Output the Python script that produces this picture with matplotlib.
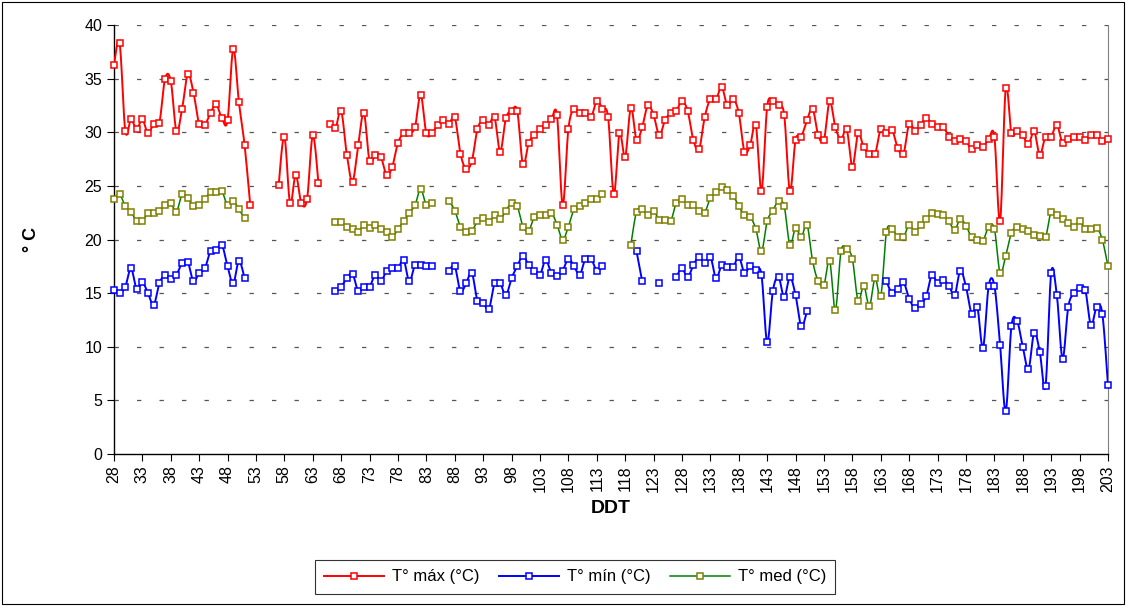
import numpy as np
import matplotlib
matplotlib.use("Agg")
import matplotlib.pyplot as plt
from matplotlib.lines import Line2D
from matplotlib.patches import Rectangle

N = np.nan
days = list(range(28, 204))

t_max = [
    36.3, 38.3, 30.1, 31.2, 30.3, 31.2, 29.9, 30.8, 30.9, 35.0,
    34.8, 30.1, 32.2, 35.4, 33.7, 30.8, 30.7, 31.8, 32.6, 31.3,
    31.1, 37.8, 32.8, 28.8, 23.2, N, N, N, N, 25.1,
    29.6, 23.4, 26.0, 23.4, 23.8, 29.7, 25.3, N, 30.8, 30.4,
    32.0, 27.9, 25.4, 28.8, 31.8, 27.3, 27.9, 27.7, 26.0, 26.8,
    29.0, 29.9, 29.9, 30.5, 33.5, 29.9, 29.9, 30.7, 31.1, 30.8,
    31.4, 28.0, 26.6, 27.3, 30.3, 31.1, 30.7, 31.4, 28.2, 31.3,
    32.0, 32.0, 27.0, 29.0, 29.7, 30.3, 30.7, 31.2, 31.6, 23.2,
    30.3, 32.2, 31.8, 31.8, 31.4, 32.9, 32.2, 31.4, 24.2, 29.9,
    27.7, 32.3, 29.3, 30.5, 32.5, 31.6, 29.7, 31.1, 31.8, 32.0,
    32.9, 32.0, 29.3, 28.4, 31.4, 33.1, 33.1, 34.2, 32.5, 33.1,
    31.8, 28.2, 28.8, 30.7, 24.5, 32.4, 32.9, 32.5, 31.6, 24.5,
    29.3, 29.6, 31.1, 32.2, 29.7, 29.3, 32.9, 30.5, 29.3, 30.3,
    26.8, 29.9, 28.6, 28.0, 28.0, 30.3, 29.9, 30.2, 28.5, 28.0,
    30.8, 30.1, 30.7, 31.3, 30.8, 30.5, 30.5, 29.6, 29.2, 29.4,
    29.2, 28.4, 28.8, 28.6, 29.4, 29.6, 21.7, 34.1, 29.9, 30.1,
    29.7, 28.9, 30.1, 27.9, 29.6, 29.6, 30.7, 29.0, 29.4, 29.6,
    29.6, 29.3, 29.7, 29.7, 29.2, 29.4,
]

t_min = [
    15.3, 15.0, 15.6, 17.3, 15.4, 16.0, 15.0, 13.9, 15.9, 16.7,
    16.3, 16.7, 17.8, 17.9, 16.1, 16.9, 17.3, 18.9, 19.0, 19.5,
    17.5, 15.9, 18.0, 16.4, N, N, N, N, N, N,
    N, N, N, N, N, N, N, N, N, 15.2,
    15.6, 16.4, 16.8, 15.2, 15.6, 15.6, 16.7, 16.1, 17.1, 17.3,
    17.3, 18.1, 16.1, 17.6, 17.6, 17.5, 17.5, N, N, 17.1,
    17.5, 15.2, 15.9, 16.9, 14.3, 14.1, 13.5, 15.9, 15.9, 14.8,
    16.4, 17.5, 18.5, 17.6, 17.1, 16.7, 18.1, 16.9, 16.6, 17.1,
    18.2, 17.5, 16.7, 18.2, 18.2, 17.1, 17.5, N, N, N,
    N, N, 18.9, 16.1, N, N, 15.9, N, N, 16.5,
    17.3, 16.5, 17.6, 18.4, 17.8, 18.4, 16.4, 17.6, 17.4, 17.4,
    18.4, 16.9, 17.5, 17.2, 16.7, 10.4, 15.2, 16.5, 14.6, 16.5,
    14.8, 11.9, 13.3, N, N, N, N, N, N, N,
    N, N, N, N, N, N, 16.1, 15.0, 15.4, 16.0,
    14.5, 13.6, 14.0, 14.7, 16.7, 15.9, 16.2, 15.7, 14.8, 17.1,
    15.6, 13.1, 13.7, 9.9, 15.7, 15.7, 10.2, 4.0, 11.9, 12.4,
    10.0, 7.9, 11.3, 9.5, 6.3, 16.9, 14.8, 8.9, 13.7, 15.0,
    15.5, 15.3, 12.0, 13.7, 13.1, 6.4,
]

t_med = [
    23.8, 24.2, 23.1, 22.6, 21.7, 21.7, 22.5, 22.5, 22.7, 23.2,
    23.4, 22.6, 24.2, 23.9, 23.1, 23.2, 23.8, 24.4, 24.4, 24.5,
    23.2, 23.6, 22.8, 22.0, N, N, N, N, N, N,
    N, N, N, N, N, N, N, N, N, 21.6,
    21.6, 21.2, 21.0, 20.7, 21.4, 21.1, 21.4, 21.0, 20.7, 20.2,
    21.0, 21.7, 22.5, 23.2, 24.7, 23.2, 23.4, N, N, 23.6,
    22.7, 21.2, 20.7, 20.8, 21.7, 22.0, 21.6, 22.3, 21.9, 22.7,
    23.4, 23.1, 21.2, 20.8, 22.1, 22.3, 22.3, 22.5, 21.4, 20.0,
    21.2, 22.8, 23.1, 23.4, 23.8, 23.8, 24.2, N, N, N,
    N, 19.5, 22.6, 22.8, 22.3, 22.7, 21.8, 21.8, 21.7, 23.4,
    23.8, 23.2, 23.2, 22.7, 22.5, 23.9, 24.4, 24.9, 24.6, 24.1,
    23.1, 22.3, 22.1, 21.0, 18.9, 21.7, 22.7, 23.6, 23.1, 19.5,
    21.1, 20.2, 21.4, 18.0, 16.1, 15.8, 18.0, 13.4, 18.9, 19.1,
    18.2, 14.3, 15.7, 13.8, 16.4, 14.7, 20.7, 21.0, 20.2, 20.2,
    21.4, 20.7, 21.4, 21.9, 22.5, 22.4, 22.3, 21.7, 20.9, 21.9,
    21.3, 20.2, 20.0, 19.9, 21.2, 21.0, 16.9, 18.5, 20.6, 21.2,
    21.0, 20.8, 20.4, 20.3, 20.2, 22.6, 22.3, 21.9, 21.5, 21.2,
    21.7, 21.0, 21.0, 21.1, 20.0, 17.5,
]

x_ticks = list(range(28, 204, 5))
y_ticks = [0, 5, 10, 15, 20, 25, 30, 35, 40]
labels = ["T° máx (°C)", "T° mín (°C)", "T° med (°C)"]

plt.rcParams['font.family'] = ['Liberation Sans', 'DejaVu Sans']


def smooth_run(xs, ys, n=14):
    P = np.column_stack([xs, ys]).astype(float)
    Pe = np.vstack([P[0], P, P[-1]])
    t = np.linspace(0, 1, n, endpoint=False)[:, None]
    out = []
    for i in range(1, len(Pe) - 2):
        p0, p1, p2, p3 = Pe[i - 1], Pe[i], Pe[i + 1], Pe[i + 2]
        c1 = p1 + (p2 - p0) / 6.0
        c2 = p2 - (p3 - p1) / 6.0
        B = ((1 - t) ** 3) * p1 + 3 * ((1 - t) ** 2) * t * c1 + 3 * (1 - t) * t ** 2 * c2 + t ** 3 * p2
        out.append(B)
    out.append(P[-1:])
    return np.vstack(out)


def draw_series(ax, x, y, lc, mc, lw):
    x = np.asarray(x, float)
    y = np.asarray(y, float)
    ok = np.isfinite(y)
    i = 0
    n = len(y)
    while i < n:
        if not ok[i]:
            i += 1
            continue
        j = i
        while j < n and ok[j]:
            j += 1
        if j - i >= 2:
            S = smooth_run(x[i:j], y[i:j])
            ax.plot(S[:, 0], S[:, 1], color=lc, lw=lw, zorder=3, solid_joinstyle='round')
        i = j
    ax.plot(x[ok], y[ok], linestyle='none', marker='s', ms=4.6, mew=1.1,
            mfc='white', mec=mc, zorder=4, clip_on=False)


fig = plt.figure(figsize=(11.26, 6.06), dpi=100)
ax = fig.add_axes([0.1012, 0.2508, 0.9840 - 0.1012, 0.9587 - 0.2508])

series = [
    (t_max, '#FF0000', '#FF0000', 1.4),
    (t_min, '#0000FF', '#0000FF', 1.4),
    (t_med, '#008000', '#808000', 1.1),
]
for vals, lc, mc, lw in series:
    draw_series(ax, days, vals, lc, mc, lw)

ax.set_xlim(28, 203)
ax.set_ylim(0, 40)
ax.set_yticks(y_ticks)
ax.set_xticks(x_ticks)
ax.set_xticklabels([str(v) for v in x_ticks], rotation=90)
ax.tick_params(axis='both', labelsize=11.5, direction='out', length=5, width=0.8, colors='black')
ax.tick_params(axis='x', pad=3)
for yv in y_ticks[1:]:
    ax.axhline(yv, color='#555555', lw=0.9, linestyle=(0, (3.5, 14.5)), zorder=1)

ax.spines['top'].set_visible(False)
ax.spines['right'].set_color('#808080')
ax.spines['left'].set_linewidth(1.0)
ax.spines['bottom'].set_linewidth(1.0)

ax.set_ylabel('° C', fontsize=13, fontweight='bold', labelpad=32)
ax.set_xlabel('DDT', fontsize=14, fontweight='bold', labelpad=6)

handles = [Line2D([], [], color=lc, lw=lw, marker='s', ms=4.6, mew=1.1, mfc='white', mec=mc)
           for _, lc, mc, lw in series]
leg = fig.legend(handles, labels, loc='center', bbox_to_anchor=(0.5107, 0.0479), ncol=3,
                 fontsize=12, frameon=True, fancybox=False, edgecolor='black',
                 handlelength=3.6, columnspacing=1.2, handletextpad=0.45, borderpad=0.55)
leg.get_frame().set_linewidth(0.8)

fig.patches.append(Rectangle((0.002, 0.004), 0.996, 0.993, transform=fig.transFigure,
                             fill=False, edgecolor='black', lw=0.8))

fig.savefig('out.png', dpi=100)
